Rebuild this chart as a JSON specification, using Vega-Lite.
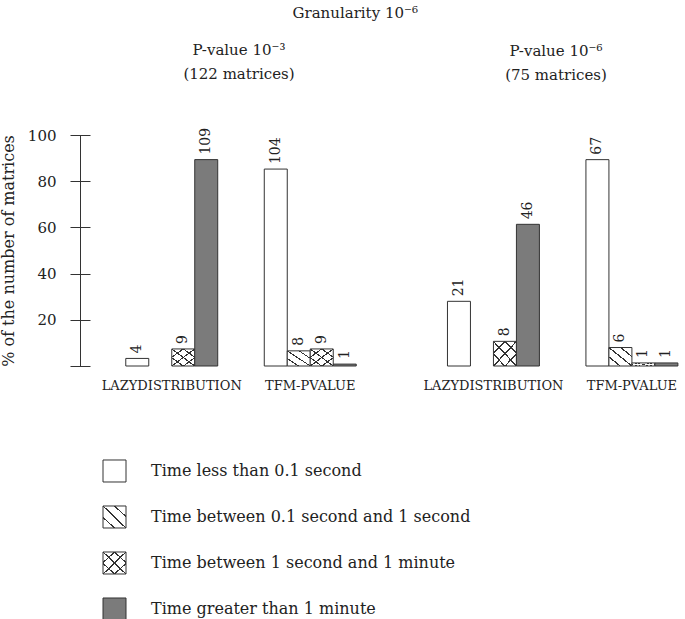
{
  "$schema": "https://vega.github.io/schema/vega-lite/v6.json",
  "padding": {"left": 0, "top": 5, "right": 0, "bottom": 0},
  "background": "white",
  "config": {
    "view": {"stroke": null},
    "font": "DejaVu Serif",
    "title": {"font": "DejaVu Serif", "fontWeight": "normal", "color": "#222"}
  },
  "datasets": {
    "bars": [
      {"panel": "a", "algo": "LazyDistribution", "cat": "Time less than 0.1 second", "count": 4, "pct": 3.28},
      {"panel": "a", "algo": "LazyDistribution", "cat": "Time between 1 second and 1 minute", "count": 9, "pct": 7.38},
      {"panel": "a", "algo": "LazyDistribution", "cat": "Time greater than 1 minute", "count": 109, "pct": 89.34},
      {"panel": "a", "algo": "TFM-Pvalue", "cat": "Time less than 0.1 second", "count": 104, "pct": 85.25},
      {"panel": "a", "algo": "TFM-Pvalue", "cat": "Time between 0.1 second and 1 second", "count": 8, "pct": 6.56},
      {"panel": "a", "algo": "TFM-Pvalue", "cat": "Time between 1 second and 1 minute", "count": 9, "pct": 7.38},
      {"panel": "a", "algo": "TFM-Pvalue", "cat": "Time greater than 1 minute", "count": 1, "pct": 0.82},
      {"panel": "b", "algo": "LazyDistribution", "cat": "Time less than 0.1 second", "count": 21, "pct": 28.0},
      {"panel": "b", "algo": "LazyDistribution", "cat": "Time between 1 second and 1 minute", "count": 8, "pct": 10.67},
      {"panel": "b", "algo": "LazyDistribution", "cat": "Time greater than 1 minute", "count": 46, "pct": 61.33},
      {"panel": "b", "algo": "TFM-Pvalue", "cat": "Time less than 0.1 second", "count": 67, "pct": 89.33},
      {"panel": "b", "algo": "TFM-Pvalue", "cat": "Time between 0.1 second and 1 second", "count": 6, "pct": 8.0},
      {"panel": "b", "algo": "TFM-Pvalue", "cat": "Time between 1 second and 1 minute", "count": 1, "pct": 1.33},
      {"panel": "b", "algo": "TFM-Pvalue", "cat": "Time greater than 1 minute", "count": 1, "pct": 1.33}
    ],
    "legend": [
      {"cat": "Time less than 0.1 second"},
      {"cat": "Time between 0.1 second and 1 second"},
      {"cat": "Time between 1 second and 1 minute"},
      {"cat": "Time greater than 1 minute"}
    ]
  },
  "title": {"text": "Granularity 10⁻⁶", "fontSize": 15, "anchor": "middle", "offset": 22, "dx": 14},
  "vconcat": [
    {
      "hconcat": [
        {
          "width": 322,
          "height": 231,
          "title": {"text": ["P-value 10⁻³", "(122 matrices)"], "fontSize": 15, "lineHeight": 24, "offset": 46, "dx": -2},
          "data": {"name": "bars"},
          "transform": [{"filter": "datum.panel == 'a'"}],
          "encoding": {
            "x": {"field": "algo", "type": "nominal", "sort": ["LazyDistribution", "TFM-Pvalue"],
                  "scale": {"paddingInner": 0.336, "paddingOuter": 0.3305},
                  "axis": {"title": null, "domain": false, "ticks": false, "labelAngle": 0, "labelExpr": "upper(datum.label)", "labelFont": "DejaVu Serif", "labelFontSize": 13, "labelColor": "#222", "labelPadding": 13}},
            "xOffset": {"field": "cat", "type": "nominal",
                  "scale": {"domain": ["Time less than 0.1 second", "Time between 0.1 second and 1 second", "Time between 1 second and 1 minute", "Time greater than 1 minute"], "paddingInner": 0, "paddingOuter": 0}},
            "y": {"field": "pct", "type": "quantitative", "scale": {"domain": [0, 100]},
                  "axis": {"values": [0, 20, 40, 60, 80, 100], "labelExpr": "datum.value == 0 ? '' : datum.label", "grid": false,
                           "tickSize": 10, "tickColor": "#333", "domainColor": "#333", "labelPadding": 14,
                           "labelFont": "DejaVu Serif", "labelFontSize": 15, "labelColor": "#222",
                           "title": "% of the number of matrices", "titleFont": "DejaVu Serif", "titleFontSize": 16, "titleFontWeight": "normal", "titleColor": "#222", "titlePadding": 11,
                           "encoding": {"ticks": {"x": {"value": 10}}}}}
          },
          "layer": [
            {"mark": {"type": "bar", "stroke": "#333", "strokeWidth": 1},
             "encoding": {"fill": {"field": "cat", "type": "nominal", "legend": null,
               "scale": {"domain": ["Time less than 0.1 second", "Time between 0.1 second and 1 second", "Time between 1 second and 1 minute", "Time greater than 1 minute"], "range": ["#ffffff", "#ffffff", "#ffffff", "#7b7b7b"]}}}},
            {"transform": [{"filter": {"field": "cat", "oneOf": ["Time between 0.1 second and 1 second", "Time between 1 second and 1 minute"]}}],
             "mark": {"type": "bar", "fill": {"gradient": "linear", "x1": 0, "y1": 1, "x2": 1, "y2": 0, "stops": [
               {"offset": 0, "color": "rgba(0,0,0,0)"}, {"offset": 0.225, "color": "rgba(0,0,0,0)"}, {"offset": 0.225, "color": "#333"}, {"offset": 0.265, "color": "#333"}, {"offset": 0.265, "color": "rgba(0,0,0,0)"},
               {"offset": 0.48, "color": "rgba(0,0,0,0)"}, {"offset": 0.48, "color": "#333"}, {"offset": 0.52, "color": "#333"}, {"offset": 0.52, "color": "rgba(0,0,0,0)"},
               {"offset": 0.735, "color": "rgba(0,0,0,0)"}, {"offset": 0.735, "color": "#333"}, {"offset": 0.775, "color": "#333"}, {"offset": 0.775, "color": "rgba(0,0,0,0)"}, {"offset": 1, "color": "rgba(0,0,0,0)"}]}}},
            {"transform": [{"filter": {"field": "cat", "equal": "Time between 1 second and 1 minute"}}],
             "mark": {"type": "bar", "fill": {"gradient": "linear", "x1": 0, "y1": 0, "x2": 1, "y2": 1, "stops": [
               {"offset": 0, "color": "rgba(0,0,0,0)"}, {"offset": 0.225, "color": "rgba(0,0,0,0)"}, {"offset": 0.225, "color": "#333"}, {"offset": 0.265, "color": "#333"}, {"offset": 0.265, "color": "rgba(0,0,0,0)"},
               {"offset": 0.48, "color": "rgba(0,0,0,0)"}, {"offset": 0.48, "color": "#333"}, {"offset": 0.52, "color": "#333"}, {"offset": 0.52, "color": "rgba(0,0,0,0)"},
               {"offset": 0.735, "color": "rgba(0,0,0,0)"}, {"offset": 0.735, "color": "#333"}, {"offset": 0.775, "color": "#333"}, {"offset": 0.775, "color": "rgba(0,0,0,0)"}, {"offset": 1, "color": "rgba(0,0,0,0)"}]}}},
            {"mark": {"type": "text", "angle": 270, "align": "left", "baseline": "middle", "dx": 5, "font": "DejaVu Serif", "fontSize": 14, "color": "#222"},
             "encoding": {"text": {"field": "count", "type": "quantitative"}}}
          ]
        },
        {
          "width": 280,
          "height": 231,
          "title": {"text": ["P-value 10⁻⁶", "(75 matrices)"], "fontSize": 15, "lineHeight": 24, "offset": 52, "dx": 14},
          "data": {"name": "bars"},
          "transform": [{"filter": "datum.panel == 'b'"}],
          "encoding": {
            "x": {"field": "algo", "type": "nominal", "sort": ["LazyDistribution", "TFM-Pvalue"],
                  "scale": {"paddingInner": 0.336, "paddingOuter": 0.179, "align": 0.917},
                  "axis": {"title": null, "domain": false, "ticks": false, "labelAngle": 0, "labelExpr": "upper(datum.label)", "labelFont": "DejaVu Serif", "labelFontSize": 13, "labelColor": "#222", "labelPadding": 13}},
            "xOffset": {"field": "cat", "type": "nominal",
                  "scale": {"domain": ["Time less than 0.1 second", "Time between 0.1 second and 1 second", "Time between 1 second and 1 minute", "Time greater than 1 minute"], "paddingInner": 0, "paddingOuter": 0}},
            "y": {"field": "pct", "type": "quantitative", "scale": {"domain": [0, 100]}, "axis": null}
          },
          "layer": [
            {"mark": {"type": "bar", "stroke": "#333", "strokeWidth": 1},
             "encoding": {"fill": {"field": "cat", "type": "nominal", "legend": null,
               "scale": {"domain": ["Time less than 0.1 second", "Time between 0.1 second and 1 second", "Time between 1 second and 1 minute", "Time greater than 1 minute"], "range": ["#ffffff", "#ffffff", "#ffffff", "#7b7b7b"]}}}},
            {"transform": [{"filter": {"field": "cat", "oneOf": ["Time between 0.1 second and 1 second", "Time between 1 second and 1 minute"]}}],
             "mark": {"type": "bar", "fill": {"gradient": "linear", "x1": 0, "y1": 1, "x2": 1, "y2": 0, "stops": [
               {"offset": 0, "color": "rgba(0,0,0,0)"}, {"offset": 0.225, "color": "rgba(0,0,0,0)"}, {"offset": 0.225, "color": "#333"}, {"offset": 0.265, "color": "#333"}, {"offset": 0.265, "color": "rgba(0,0,0,0)"},
               {"offset": 0.48, "color": "rgba(0,0,0,0)"}, {"offset": 0.48, "color": "#333"}, {"offset": 0.52, "color": "#333"}, {"offset": 0.52, "color": "rgba(0,0,0,0)"},
               {"offset": 0.735, "color": "rgba(0,0,0,0)"}, {"offset": 0.735, "color": "#333"}, {"offset": 0.775, "color": "#333"}, {"offset": 0.775, "color": "rgba(0,0,0,0)"}, {"offset": 1, "color": "rgba(0,0,0,0)"}]}}},
            {"transform": [{"filter": {"field": "cat", "equal": "Time between 1 second and 1 minute"}}],
             "mark": {"type": "bar", "fill": {"gradient": "linear", "x1": 0, "y1": 0, "x2": 1, "y2": 1, "stops": [
               {"offset": 0, "color": "rgba(0,0,0,0)"}, {"offset": 0.225, "color": "rgba(0,0,0,0)"}, {"offset": 0.225, "color": "#333"}, {"offset": 0.265, "color": "#333"}, {"offset": 0.265, "color": "rgba(0,0,0,0)"},
               {"offset": 0.48, "color": "rgba(0,0,0,0)"}, {"offset": 0.48, "color": "#333"}, {"offset": 0.52, "color": "#333"}, {"offset": 0.52, "color": "rgba(0,0,0,0)"},
               {"offset": 0.735, "color": "rgba(0,0,0,0)"}, {"offset": 0.735, "color": "#333"}, {"offset": 0.775, "color": "#333"}, {"offset": 0.775, "color": "rgba(0,0,0,0)"}, {"offset": 1, "color": "rgba(0,0,0,0)"}]}}},
            {"mark": {"type": "text", "angle": 270, "align": "left", "baseline": "middle", "dx": 5, "font": "DejaVu Serif", "fontSize": 14, "color": "#222"},
             "encoding": {"text": {"field": "count", "type": "quantitative"}}}
          ]
        }
      ],
      "spacing": 0
    },
    {
      "width": 480,
      "height": 172,
      "data": {"name": "legend"},
      "encoding": {
        "y": {"field": "cat", "type": "nominal", "sort": null, "axis": null,
              "scale": {"paddingInner": 0.5217, "paddingOuter": 0.1304, "align": 1}}
      },
      "layer": [
        {"mark": {"type": "bar", "stroke": "#333", "strokeWidth": 1},
         "encoding": {
           "x": {"datum": 23, "type": "quantitative", "scale": {"domain": [0, 480], "nice": false}, "axis": null},
           "x2": {"datum": 46},
           "fill": {"field": "cat", "type": "nominal", "legend": null,
             "scale": {"domain": ["Time less than 0.1 second", "Time between 0.1 second and 1 second", "Time between 1 second and 1 minute", "Time greater than 1 minute"], "range": ["#ffffff", "#ffffff", "#ffffff", "#7b7b7b"]}}}},
        {"transform": [{"filter": {"field": "cat", "oneOf": ["Time between 0.1 second and 1 second", "Time between 1 second and 1 minute"]}}],
         "mark": {"type": "bar", "fill": {"gradient": "linear", "x1": 0, "y1": 1, "x2": 1, "y2": 0, "stops": [
               {"offset": 0, "color": "rgba(0,0,0,0)"}, {"offset": 0.225, "color": "rgba(0,0,0,0)"}, {"offset": 0.225, "color": "#333"}, {"offset": 0.265, "color": "#333"}, {"offset": 0.265, "color": "rgba(0,0,0,0)"},
               {"offset": 0.48, "color": "rgba(0,0,0,0)"}, {"offset": 0.48, "color": "#333"}, {"offset": 0.52, "color": "#333"}, {"offset": 0.52, "color": "rgba(0,0,0,0)"},
               {"offset": 0.735, "color": "rgba(0,0,0,0)"}, {"offset": 0.735, "color": "#333"}, {"offset": 0.775, "color": "#333"}, {"offset": 0.775, "color": "rgba(0,0,0,0)"}, {"offset": 1, "color": "rgba(0,0,0,0)"}]}},
         "encoding": {"x": {"datum": 23, "type": "quantitative"}, "x2": {"datum": 46}}},
        {"transform": [{"filter": {"field": "cat", "equal": "Time between 1 second and 1 minute"}}],
         "mark": {"type": "bar", "fill": {"gradient": "linear", "x1": 0, "y1": 0, "x2": 1, "y2": 1, "stops": [
               {"offset": 0, "color": "rgba(0,0,0,0)"}, {"offset": 0.225, "color": "rgba(0,0,0,0)"}, {"offset": 0.225, "color": "#333"}, {"offset": 0.265, "color": "#333"}, {"offset": 0.265, "color": "rgba(0,0,0,0)"},
               {"offset": 0.48, "color": "rgba(0,0,0,0)"}, {"offset": 0.48, "color": "#333"}, {"offset": 0.52, "color": "#333"}, {"offset": 0.52, "color": "rgba(0,0,0,0)"},
               {"offset": 0.735, "color": "rgba(0,0,0,0)"}, {"offset": 0.735, "color": "#333"}, {"offset": 0.775, "color": "#333"}, {"offset": 0.775, "color": "rgba(0,0,0,0)"}, {"offset": 1, "color": "rgba(0,0,0,0)"}]}},
         "encoding": {"x": {"datum": 23, "type": "quantitative"}, "x2": {"datum": 46}}},
        {"mark": {"type": "text", "align": "left", "baseline": "middle", "font": "DejaVu Serif", "fontSize": 16, "color": "#222"},
         "encoding": {"x": {"datum": 71, "type": "quantitative"}, "text": {"field": "cat", "type": "nominal"}}}
      ]
    }
  ],
  "spacing": 56
}
